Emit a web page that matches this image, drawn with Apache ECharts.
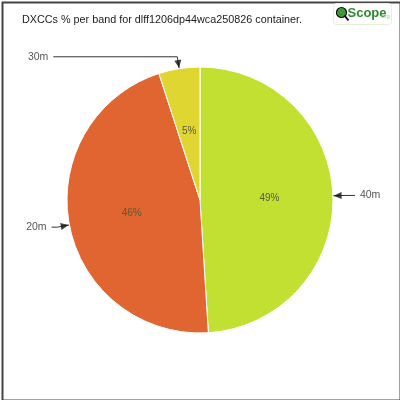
<!DOCTYPE html>
<html><head><meta charset="utf-8">
<script src="https://cdn.jsdelivr.net/npm/echarts@6/dist/echarts.min.js"></script>
<style>html,body{margin:0;padding:0;background:#fff}#c{width:400px;height:400px}</style>
</head><body><div id="c"></div>
<script>
const categories = ['40m', '20m', '30m'];
const values = [49, 46, 5];
const colors = ['#c1e032', '#e06530', '#e0d632'];
const titleText = 'DXCCs % per band for dlff1206dp44wca250826 container.';

const leaderLen2 = [10, 6, 124];
const total = values.reduce((a, b) => a + b, 0);
let cum = 0;
const arrowData = values.map(v => {
  const mid = (cum + v / 2) / total * 100;
  cum += v;
  return { value: [1.035, mid], symbolRotate: 180 - mid * 3.6 };
});
const pieData = categories.map((c, i) => ({ name: c, value: values[i], itemStyle: { color: colors[i] } }));
const FONT = "'Liberation Sans', 'DejaVu Sans', sans-serif";

const chart = echarts.init(document.getElementById('c'));
chart.setOption({
  animation: false,
  title: { text: titleText, left: 17, top: 10, textStyle: { fontFamily: FONT, fontSize: 10.8, fontWeight: 'normal', color: '#222' } },
  polar: { center: ['50%', '50%'], radius: 140 },
  angleAxis: { type: 'value', min: 0, max: 100, startAngle: 90, clockwise: true, show: false },
  radiusAxis: { type: 'value', min: 0, max: 1.0526, show: false },
  series: [
    {
      type: 'pie', center: ['50%', '50%'], radius: 133, startAngle: 90, clockwise: true,
      data: pieData,
      itemStyle: { borderColor: '#fff', borderWidth: 1 },
      label: { position: 'inside', formatter: p => Math.round(p.percent) + '%', fontFamily: FONT, fontSize: 10, color: '#5a5a3a' },
      labelLine: { show: false }, silent: true
    },
    {
      type: 'pie', center: ['50%', '50%'], radius: 133, startAngle: 90, clockwise: true,
      data: categories.map((c, i) => ({ name: c, value: values[i], labelLine: { length2: leaderLen2[i] } })),
      itemStyle: { color: 'rgba(0,0,0,0)' },
      label: { position: 'outside', formatter: '{b}', fontFamily: FONT, fontSize: 10.5, color: '#555', overflow: 'none' },
      labelLine: { show: true, length: 12, lineStyle: { color: '#333', width: 1 } },
      silent: true
    },
    {
      type: 'scatter', coordinateSystem: 'polar', data: arrowData,
      symbol: 'triangle', symbolSize: [7, 8], itemStyle: { color: '#111' }, silent: true, z: 5
    }
  ],
  graphic: [
    { type: 'rect', left: 0, top: 0, shape: { x: 1, y: 1, width: 398, height: 398 }, style: { fill: 'none', stroke: '#444', lineWidth: 2 }, silent: true },
    { type: 'group', left: 333, top: 3, children: [
      { type: 'rect', shape: { x: 0, y: 0, width: 58, height: 21, r: 3 }, style: { fill: '#fff', stroke: '#e6efd2', lineWidth: 1 } },
      { type: 'circle', shape: { cx: 8, cy: 9, r: 5 }, style: { fill: '#3c9a3c', stroke: '#111', lineWidth: 1.2 } },
      { type: 'line', shape: { x1: 11, y1: 12, x2: 15, y2: 17 }, style: { stroke: '#111', lineWidth: 2 } },
      { type: 'text', x: 14, y: 3, style: { text: 'Scope', fontFamily: FONT, fontSize: 13, fontWeight: 'bold', fill: '#2e8a2e' } },
      { type: 'text', x: 46, y: 10, style: { text: '.org', fontFamily: FONT, fontSize: 6, fill: '#9c9' } }
    ] }
  ]
});
</script></body></html>
